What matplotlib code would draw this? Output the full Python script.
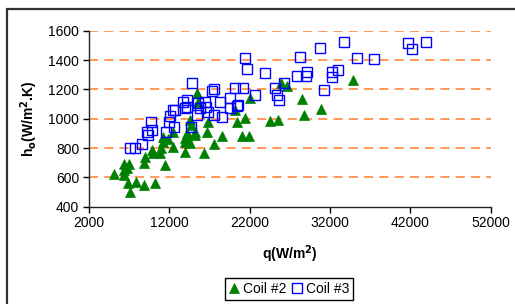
import matplotlib
matplotlib.use('Agg')
import matplotlib.pyplot as plt
from matplotlib.patches import Rectangle

plt.rcParams['font.family'] = ['Liberation Sans', 'DejaVu Sans']

# Coil #2 (triangles): heat flux q and coefficient h
coil2_q = [5100, 6300, 7000, 6700, 6300, 6400, 6900, 7100, 7900, 8850,
           10200, 8850, 8970, 9800, 10000, 10800, 10960, 11460, 11170, 11250,
           11870, 12400, 12500, 13950, 13950, 14160, 14570, 14160, 14690, 14570,
           15190, 15190, 15400, 15600, 16360, 16640, 16850, 17600, 18520, 20170,
           20400, 21000, 21920, 21420, 22050, 24530, 25500, 25900, 26600, 28560,
           28800, 30880, 34900, 13950]
coil2_h = [620, 690, 690, 662, 650, 616, 564, 502, 570, 548,
           560, 696, 741, 787, 764, 764, 798, 684, 843, 873,
           860, 805, 911, 775, 843, 877, 832, 900, 957, 991,
           889, 911, 1173, 1116, 768, 911, 980, 827, 882, 1059,
           980, 882, 882, 1003, 1139, 986, 991, 1245, 1223, 1132,
           1025, 1068, 1264, 866]

# Coil #3 (squares)
coil3_q = [7100, 7750, 8550, 9200, 9800, 9700, 9400, 11550, 11900, 12100,
           12500, 12700, 12600, 13700, 14000, 14200, 14200, 14800, 14700, 15400,
           15600, 15800, 16400, 16600, 16800, 17300, 17500, 17500, 18300, 18500,
           19500, 19600, 20200, 20400, 20600, 21200, 21400, 21700, 22700, 23900,
           25200, 25400, 25600, 26300, 27900, 28300, 29100, 29000, 30800, 31300,
           32200, 32200, 33000, 33800, 35400, 37500, 41700, 42200, 43900]
coil3_h = [800, 800, 825, 910, 920, 980, 890, 910, 980, 1020,
           1060, 1060, 945, 1115, 1070, 1082, 1127, 1240, 945, 1025,
           1105, 1071, 1116, 1082, 1048, 1190, 1200, 1025, 1116, 1014,
           1139, 1071, 1207, 1087, 1093, 1207, 1412, 1337, 1162, 1309,
           1207, 1162, 1127, 1241, 1291, 1418, 1320, 1290, 1480, 1196,
           1320, 1282, 1332, 1525, 1412, 1405, 1514, 1473, 1525]

xticks = [2000, 12000, 22000, 32000, 42000, 52000]
yticks = [400, 600, 800, 1000, 1200, 1400, 1600]

fig = plt.figure(figsize=(5.15, 3.04), dpi=100)
ax = fig.add_axes([0.1728, 0.3201, 0.78, 0.579])

# outer chart frame (partly cut off at right/bottom)
fig.patches.append(Rectangle((7 / 515, -0.05), 1.1, 1 - 9 / 304 + 0.05,
                             transform=fig.transFigure, fill=False,
                             edgecolor='#333333', lw=1.6, zorder=0))

for yv in yticks[1:]:
    ax.axhline(yv, color='#FF7F2A', lw=1.1, dashes=(6, 4), zorder=1)

ax.plot(coil2_q, coil2_h, linestyle='none', marker='^', markersize=7.5,
        color='#008000', markeredgewidth=0.5, label='Coil #2', zorder=3)
ax.plot(coil3_q, coil3_h, linestyle='none', marker='s', markersize=7.8,
        markerfacecolor='none', markeredgecolor='#0000FF',
        markeredgewidth=1.0, label='Coil #3', zorder=4)

ax.set_xlim(2000, 52000)
ax.set_ylim(400, 1600)
ax.set_xticks(xticks)
ax.set_yticks(yticks)
ax.tick_params(labelsize=10, direction='out', length=4, width=1, pad=3)
for s in ['top', 'right']:
    ax.spines[s].set_visible(False)
for s in ['left', 'bottom']:
    ax.spines[s].set_color('#222222')
    ax.spines[s].set_linewidth(1)

ax.set_xlabel('q(W/m$^\\mathbf{2}$)', fontsize=10, fontweight='bold', labelpad=9)
ax.set_ylabel('h$_\\mathbf{o}$(W/m$^\\mathbf{2}$.K)', fontsize=10, fontweight='bold', labelpad=6)

fig.legend(loc='center', bbox_to_anchor=(289 / 515, 1 - 289 / 304), ncol=2,
           fontsize=10, frameon=True, fancybox=False, edgecolor='black',
           handlelength=0.8, handletextpad=0.2, columnspacing=0.4,
           borderpad=0.3, framealpha=1)

fig.savefig('out.png', dpi=100)
